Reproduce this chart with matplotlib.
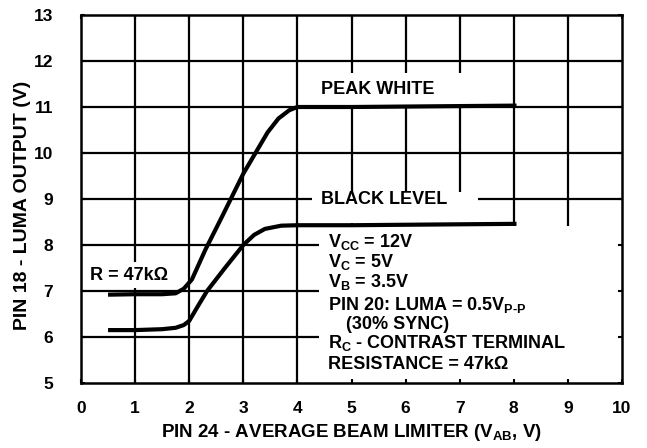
import matplotlib
matplotlib.use("Agg")
import matplotlib.pyplot as plt
from matplotlib.patches import Rectangle
import numpy as np

plt.rcParams['font.family'] = ['Liberation Sans', 'DejaVu Sans']
plt.rcParams['font.weight'] = 'bold'
plt.rcParams['axes.labelweight'] = 'bold'
plt.rcParams['mathtext.fontset'] = 'custom'
plt.rcParams['mathtext.rm'] = 'Liberation Sans:bold'
plt.rcParams['mathtext.bf'] = 'Liberation Sans:bold'
plt.rcParams['mathtext.it'] = 'Liberation Sans:bold'
plt.rcParams['mathtext.default'] = 'bf'

# Data
peak_x = [0.5, 1.0, 1.5, 1.75, 1.9, 2.05, 2.3, 2.6, 3.0, 3.25, 3.45, 3.65, 3.85, 4.0, 5.0, 6.0, 7.0, 8.05]
peak_y = [6.92, 6.93, 6.93, 6.95, 7.05, 7.25, 7.9, 8.6, 9.55, 10.05, 10.45, 10.75, 10.93, 11.0, 11.0, 11.01, 11.02, 11.03]
black_x = [0.5, 1.0, 1.5, 1.75, 1.9, 2.0, 2.15, 2.33, 2.66, 3.0, 3.2, 3.4, 3.7, 4.0, 5.0, 6.0, 7.0, 8.05]
black_y = [6.15, 6.15, 6.17, 6.2, 6.26, 6.35, 6.65, 7.0, 7.5, 8.0, 8.22, 8.35, 8.42, 8.43, 8.43, 8.44, 8.45, 8.46]
x_ticks = list(range(0, 11))
y_ticks = list(range(5, 14))

fig = plt.figure(figsize=(6.47, 4.48), dpi=100)
ax = fig.add_axes([81/647, 1-383/448, (622-81)/647, (383-15)/448])
ax.set_xlim(0, 10)
ax.set_ylim(5, 13)

# grid
ax.vlines(x_ticks[1:-1], 5, 13, colors='black', linewidth=1.6, zorder=0.5)
ax.hlines(y_ticks[1:-1], 0, 10, colors='black', linewidth=1.6, zorder=0.5)

# white label boxes covering grid
for (x0, y0, w, h) in [(4.1, 11.02, 3.7, 0.72), (4.27, 8.47, 3.06, 0.68),
                       (0.05, 7.06, 1.7, 0.57), (4.4, 5.0, 5.6, 3.42)]:
    ax.add_patch(Rectangle((x0, y0), w, h, facecolor='white', edgecolor='none', zorder=1))

ax.plot(peak_x, peak_y, color='black', linewidth=3.0, zorder=3, solid_capstyle='butt')
ax.plot(black_x, black_y, color='black', linewidth=3.0, zorder=3, solid_capstyle='butt')

for s in ax.spines.values():
    s.set_linewidth(1.8)
    s.set_zorder(3)

ax.set_xticks(x_ticks)
ax.set_yticks(y_ticks)
ax.tick_params(direction='in', length=3, width=1.5, top=True, right=True,
               labelsize=12.5, pad=0)
ax.tick_params(axis='y', pad=20)
ax.tick_params(axis='x', pad=13)

fs = 13
ax.text(4.43, 11.39, 'PEAK WHITE', fontsize=fs, va='center', ha='left', zorder=4)
ax.text(4.43, 8.98, 'BLACK LEVEL', fontsize=fs, va='center', ha='left', zorder=4)
ax.text(0.17, 7.33, 'R = 47k\u03a9', fontsize=fs, va='center', ha='left', zorder=4)

lines = [(8.07, 'V$_{CC}$ = 12V', 4.57),
         (7.63, 'V$_{C}$ = 5V', 4.57),
         (7.20, 'V$_{B}$ = 3.5V', 4.57),
         (6.70, 'PIN 20: LUMA = 0.5V$_{P\u2010P}$', 4.57),
         (6.28, '(30% SYNC)', 4.9),
         (5.87, 'R$_{C}$ - CONTRAST TERMINAL', 4.57),
         (5.41, 'RESISTANCE = 47k\u03a9', 4.57)]
for y, t, x in lines:
    ax.text(x, y, t, fontsize=fs, va='center', ha='left', zorder=4)

ax.set_xlabel('PIN 24 - AVERAGE BEAM LIMITER (V$_{AB}$, V)', fontsize=13.5, fontweight='bold', labelpad=4)
ax.set_ylabel('PIN 18 - LUMA OUTPUT (V)', fontsize=14, fontweight='bold')
ax.yaxis.set_label_coords(-0.092, 0.484)

fig.savefig('out.png', dpi=100)
